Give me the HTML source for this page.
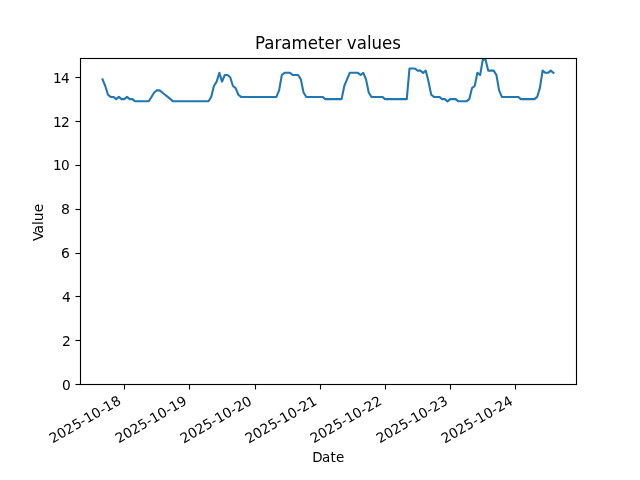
<!DOCTYPE html>
<html lang="en"><head><meta charset="utf-8"><title>Parameter values</title>
<style>html,body{margin:0;padding:0;background:#fff;overflow:hidden}svg{display:block}text{font-family:'DejaVu Sans', 'Liberation Sans', sans-serif;fill:#000;white-space:pre}</style></head><body>
<svg width="640" height="480" viewBox="0 0 640 480">
<rect width="640" height="480" fill="#fff"/>
<defs><clipPath id="c"><rect x="80" y="57.6" width="496" height="326.4"/></clipPath></defs>
<g fill="#000">
<rect x="123.944" y="384.5" width="1.111" height="5"/>
<rect x="188.944" y="384.5" width="1.111" height="5"/>
<rect x="254.944" y="384.5" width="1.111" height="5"/>
<rect x="319.944" y="384.5" width="1.111" height="5"/>
<rect x="384.944" y="384.5" width="1.111" height="5"/>
<rect x="449.944" y="384.5" width="1.111" height="5"/>
<rect x="514.944" y="384.5" width="1.111" height="5"/>
<rect x="75.5" y="383.944" width="5" height="1.111"/>
<rect x="75.5" y="339.944" width="5" height="1.111"/>
<rect x="75.5" y="295.944" width="5" height="1.111"/>
<rect x="75.5" y="252.944" width="5" height="1.111"/>
<rect x="75.5" y="208.944" width="5" height="1.111"/>
<rect x="75.5" y="164.944" width="5" height="1.111"/>
<rect x="75.5" y="120.944" width="5" height="1.111"/>
<rect x="75.5" y="76.944" width="5" height="1.111"/>
</g>
<text font-size="13.611" transform="translate(52.555 443.595) rotate(-30) scale(1.0000 1.0000)" x="0.12 8.77 17.44 26.48 35 40.12 48.78 58.06 62.54 71.46">2025-10-18</text>
<text font-size="13.611" transform="translate(118.496 443.72) rotate(-30) scale(1.0102 1.0000)" x="0.25 8.81 17.39 26.09 34.9 39.71 48.41 57.22 62.16 70.49">2025-10-19</text>
<text font-size="13.889" transform="translate(183.438 443.845) rotate(-30) scale(0.9900 1.0000)" x="0.25 9.15 17.95 26.74 35.4 40.72 49.51 58.05 63.35 72.02">2025-10-20</text>
<text font-size="14" transform="translate(248.38 443.97) rotate(-30) scale(0.9871 1.0000)" x="0.38 9.19 18.02 27.08 35.66 40.85 49.8 58.99 63.57 72.27">2025-10-21</text>
<text font-size="13.611" transform="translate(313.446 443.72) rotate(-30) scale(1.0051 1.0000)" x="0.25 8.85 17.48 26.59 35.08 40.04 48.66 57.52 62.35 71.1">2025-10-22</text>
<text font-size="13.611" transform="translate(379.513 443.72) rotate(-30) scale(1.0051 1.0000)" x="0.25 8.85 17.48 26.22 35.08 40.04 48.66 57.51 62.35 70.85">2025-10-23</text>
<text font-size="13.889" transform="translate(444.33 443.97) rotate(-30) scale(0.9850 1.0000)" x="0.38 9.2 18.04 27.13 36.34 40.93 49.89 58.6 63.93 72.51">2025-10-24</text>
<text font-size="14.167" transform="translate(328 461.83) scale(0.9510 1.0000)" x="-16.66 -6.4 2.65 8.32">Date</text>
<text font-size="13.333" transform="translate(70.778 390.277) scale(1.0313 1.0000)" x="-8.48">0</text>
<text font-size="14" transform="translate(70.778 346.45) scale(0.9921 1.0000)" x="-8.91">2</text>
<text font-size="14" transform="translate(70.778 301.623) scale(0.9921 1.0000)" x="-8.91">4</text>
<text font-size="13.889" transform="translate(69.778 257.796)" x="-8.83">6</text>
<text font-size="14.167" transform="translate(69.778 213.97) scale(0.9951 1.0000)" x="-8.92">8</text>
<text font-size="14.445" transform="translate(69.778 170.143) scale(0.9423 1.0200)" x="-17.86 -9.2">10</text>
<text font-size="14" transform="translate(70.528 127.316) scale(0.9871 1.0200)" x="-17.71 -9.73">12</text>
<text font-size="14" transform="translate(69.778 83.489) scale(0.9722 1.0000)" x="-17.31 -8.92">14</text>
<text font-size="14.445" transform="translate(43.16 222.55) rotate(-90) scale(0.9519 1.0000)" x="-19.4 -11.55 -2.7 1.35 10.76">Value</text>
<path clip-path="url(#c)" d="M102.545 79.404L105.262 85.978L107.978 94.743L110.694 96.935L113.411 96.935L116.127 99.126L118.843 96.935L121.56 99.126L124.276 99.126L126.992 96.935L129.709 99.126L132.425 99.126L135.141 101.317L137.858 101.317L140.574 101.317L143.29 101.317L146.007 101.317L148.723 101.317L151.439 96.935L154.156 92.552L156.872 90.361L159.588 90.361L162.304 92.552L165.021 94.743L167.737 96.935L170.453 99.126L173.17 101.317L175.886 101.317L178.602 101.317L181.319 101.317L184.035 101.317L186.751 101.317L189.468 101.317L192.184 101.317L194.9 101.317L197.617 101.317L200.333 101.317L203.049 101.317L205.766 101.317L208.482 101.317L211.198 96.935L213.915 85.978L216.631 81.595L219.347 72.83L222.064 81.595L224.78 75.021L227.496 75.021L230.212 77.212L232.929 85.978L235.645 88.169L238.361 94.743L241.078 96.935L243.794 96.935L246.51 96.935L249.227 96.935L251.943 96.935L254.659 96.935L257.376 96.935L260.092 96.935L262.808 96.935L265.525 96.935L268.241 96.935L270.957 96.935L273.674 96.935L276.39 96.935L279.106 90.361L281.823 75.021L284.539 72.83L287.255 72.83L289.972 72.83L292.688 75.021L295.404 75.021L298.12 75.021L300.837 79.404L303.553 92.552L306.269 96.935L308.986 96.935L311.702 96.935L314.418 96.935L317.135 96.935L319.851 96.935L322.567 96.935L325.284 99.126L328 99.126L330.716 99.126L333.433 99.126L336.149 99.126L338.865 99.126L341.582 99.126L344.298 85.978L347.014 79.404L349.731 72.83L352.447 72.83L355.163 72.83L357.88 72.83L360.596 75.021L363.312 72.83L366.028 79.404L368.745 92.552L371.461 96.935L374.177 96.935L376.894 96.935L379.61 96.935L382.326 96.935L385.043 99.126L387.759 99.126L390.475 99.126L393.192 99.126L395.908 99.126L398.624 99.126L401.341 99.126L404.057 99.126L406.773 99.126L409.49 68.447L412.206 68.447L414.922 68.447L417.639 70.638L420.355 70.638L423.071 72.83L425.788 70.638L428.504 81.595L431.22 94.743L433.936 96.935L436.653 96.935L439.369 96.935L442.085 99.126L444.802 99.126L447.518 101.317L450.234 99.126L452.951 99.126L455.667 99.126L458.383 101.317L461.1 101.317L463.816 101.317L466.532 101.317L469.249 99.126L471.965 88.169L474.681 85.978L477.398 72.83L480.114 75.021L482.83 59.682L485.547 59.682L488.263 70.638L490.979 70.638L493.696 70.638L496.412 75.021L499.128 90.361L501.844 96.935L504.561 96.935L507.277 96.935L509.993 96.935L512.71 96.935L515.426 96.935L518.142 96.935L520.859 99.126L523.575 99.126L526.291 99.126L529.008 99.126L531.724 99.126L534.44 99.126L537.157 96.935L539.873 88.169L542.589 70.638L545.306 72.83L548.022 72.83L550.738 70.638L553.455 72.83" fill="none" stroke="#1f77b4" stroke-width="2.083" stroke-linejoin="round" stroke-linecap="square"/>
<g fill="#000">
<rect x="79.944" y="57.944" width="1.111" height="327.111"/>
<rect x="575.944" y="57.944" width="1.111" height="327.111"/>
<rect x="79.944" y="383.944" width="497.111" height="1.111"/>
<rect x="79.944" y="57.944" width="497.111" height="1.111"/>
</g>
<text font-size="17" transform="translate(328 49.267) scale(0.9804 1.0400)" x="-74.55 -65.06 -54.65 -47.68 -37.26 -20.71 -10.25 -3.59 6.87 13.86 19.26 29.31 39.72 44.46 54.97 65.43">Parameter values</text>
</svg></body></html>
